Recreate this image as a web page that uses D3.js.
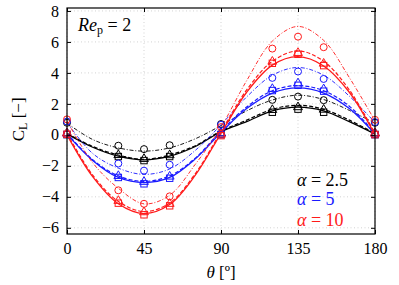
<!DOCTYPE html>
<html>
<head>
<meta charset="utf-8">
<script src="https://cdn.jsdelivr.net/npm/d3@7"></script>
<style>
  body { margin: 0; background: #fff; }
</style>
</head>
<body>
<div id="chart"></div>
<script>
// ── Data ─────────────────────────────────────────────────────────────────────
const alphas = ['2.5', '5', '10'];
const colors = ['#000000', '#1a1aff', '#ff1a1a'];

const xTicks = [0, 45, 90, 135, 180];
const yTicks = [-6, -4, -2, 0, 2, 4, 6, 8];

// marker angles
const thetaPts = [0, 30, 45, 60, 90, 120, 135, 150, 180];
const circles = [
  [0.78, -0.70, -0.92, -0.67, 0.70, 2.26, 2.47, 2.24, 0.78],
  [0.86, -1.85, -2.31, -1.93, 0.65, 3.68, 4.09, 3.61, 0.82],
  [1.00, -3.58, -4.45, -3.97, 0.50, 5.57, 6.34, 5.66, 0.97]
];
const triangles = [
  [0.10, -1.30, -1.55, -1.31, 0.10, 1.61, 1.79, 1.63, 0.10],
  [0.10, -2.65, -3.03, -2.69, 0.10, 2.97, 3.33, 2.95, 0.10],
  [0.10, -4.26, -4.99, -4.45, 0.02, 4.73, 5.29, 4.60, 0.10]
];
const squares = [
  [0.02, -1.40, -1.66, -1.40, 0.02, 1.46, 1.66, 1.46, 0.02],
  [0.02, -2.75, -3.16, -2.80, 0.02, 2.86, 3.20, 2.82, 0.02],
  [0.04, -4.41, -5.16, -4.58, -0.05, 4.62, 5.20, 4.47, 0.02]
];

// curve angles
const thetaLine = [0, 15, 30, 45, 60, 75, 90, 105, 120, 135, 150, 165, 180];
const dashDot = [
  [0.75, -0.30, -0.84, -1.05, -0.84, -0.25, 0.60, 1.55, 2.25, 2.56, 2.28, 1.58, 0.75],
  [0.80, -1.20, -2.15, -2.55, -2.20, -1.00, 0.65, 2.45, 3.85, 4.35, 3.85, 2.50, 0.80],
  [0.90, -1.80, -3.45, -4.45, -3.90, -1.90, 0.50, 3.50, 6.05, 7.00, 6.10, 3.70, 0.90]
];
const dashed = [
  [0.10, -0.75, -1.30, -1.58, -1.30, -0.70, 0.25, 0.95, 1.65, 1.91, 1.65, 0.95, 0.10],
  [0.10, -1.60, -2.65, -3.00, -2.65, -1.50, 0.25, 1.80, 2.85, 3.18, 2.85, 1.85, 0.10],
  [0.10, -2.60, -4.30, -4.95, -4.40, -2.50, 0.20, 2.90, 4.75, 5.42, 4.75, 2.90, 0.10]
];
const solid = [
  [0.05, -0.80, -1.38, -1.62, -1.38, -0.75, 0.20, 0.85, 1.55, 1.79, 1.55, 0.85, 0.05],
  [0.05, -1.65, -2.75, -3.08, -2.75, -1.55, 0.15, 1.70, 2.70, 3.03, 2.70, 1.70, 0.05],
  [0.00, -2.70, -4.45, -5.08, -4.50, -2.60, 0.10, 2.75, 4.50, 5.05, 4.45, 2.75, 0.00]
];

// ── Dimensions ───────────────────────────────────────────────────────────────
const W = 399, H = 285;
const margin = { top: 8, right: 24, bottom: 51, left: 67 };
const innerW = W - margin.left - margin.right;
const innerH = H - margin.top - margin.bottom;
const FONT = 'Liberation Serif';

const x = d3.scaleLinear().domain([0, 180]).range([0, innerW]);
const y = d3.scaleLinear().domain([-6.4, 8.19]).range([innerH, 0]);

const svg = d3.select('#chart').append('svg')
  .attr('width', W).attr('height', H);

const defs = svg.append('defs');
defs.append('clipPath').attr('id', 'clip')
  .append('rect').attr('width', innerW).attr('height', innerH);

const g = svg.append('g')
  .attr('transform', `translate(${margin.left},${margin.top})`);

// ── Grid ─────────────────────────────────────────────────────────────────────
g.append('g')
  .selectAll('line').data(xTicks).join('line')
  .attr('x1', d => x(d)).attr('x2', d => x(d))
  .attr('y1', 0).attr('y2', innerH)
  .attr('stroke', '#c8c8c8').attr('stroke-width', 0.8).attr('stroke-dasharray', '1,2.5');

g.append('g')
  .selectAll('line').data(yTicks).join('line')
  .attr('x1', 0).attr('x2', innerW)
  .attr('y1', d => y(d)).attr('y2', d => y(d))
  .attr('stroke', '#c8c8c8').attr('stroke-width', 0.8).attr('stroke-dasharray', '1,2.5');

// ── Curves ───────────────────────────────────────────────────────────────────
const line = d3.line()
  .x((d, i) => x(thetaLine[i]))
  .y(d => y(d))
  .curve(d3.curveCatmullRom.alpha(0.5));

const plot = g.append('g').attr('clip-path', 'url(#clip)');

alphas.forEach((a, k) => {
  plot.append('path').datum(dashDot[k])
    .attr('fill', 'none').attr('stroke', colors[k]).attr('stroke-width', 0.9)
    .attr('stroke-dasharray', '4,1.8,1,1.8').attr('d', line);
  plot.append('path').datum(dashed[k])
    .attr('fill', 'none').attr('stroke', colors[k]).attr('stroke-width', 1.2)
    .attr('stroke-dasharray', '4,2').attr('d', line);
  plot.append('path').datum(solid[k])
    .attr('fill', 'none').attr('stroke', colors[k]).attr('stroke-width', 1.3)
    .attr('d', line);
});

// ── Markers ──────────────────────────────────────────────────────────────────
alphas.forEach((a, k) => {
  const mk = g.append('g').attr('fill', 'none').attr('stroke', colors[k]).attr('stroke-width', 1);
  mk.selectAll('.c').data(circles[k]).join('circle')
    .attr('cx', (d, i) => x(thetaPts[i])).attr('cy', d => y(d)).attr('r', 3.5);
  mk.selectAll('.s').data(squares[k]).join('rect')
    .attr('x', (d, i) => x(thetaPts[i]) - 3.2).attr('y', d => y(d) - 3.2)
    .attr('width', 6.4).attr('height', 6.4);
  mk.selectAll('.t').data(triangles[k]).join('path')
    .attr('transform', (d, i) => `translate(${x(thetaPts[i])},${y(d)})`)
    .attr('d', d3.symbol(d3.symbolTriangle, 34)());
});

// ── Axes (mirrored inward ticks) ─────────────────────────────────────────────
const tick = 4;
const axisStyle = ax => {
  ax.select('.domain').remove();
  ax.selectAll('line').attr('stroke', '#000').attr('stroke-width', 1);
  ax.selectAll('text').attr('fill', '#000')
    .attr('font-family', FONT).attr('font-size', 16);
};
g.append('g').attr('transform', `translate(0,${innerH})`)
  .call(d3.axisBottom(x).tickValues(xTicks).tickSizeInner(-tick).tickPadding(9))
  .call(axisStyle);
g.append('g')
  .call(d3.axisTop(x).tickValues(xTicks).tickSizeInner(-tick).tickFormat(''))
  .call(axisStyle);
g.append('g')
  .call(d3.axisLeft(y).tickValues(yTicks).tickSizeInner(-tick).tickPadding(8)
    .tickFormat(d => d < 0 ? '\u2212' + Math.abs(d) : d))
  .call(axisStyle);
g.append('g').attr('transform', `translate(${innerW},0)`)
  .call(d3.axisRight(y).tickValues(yTicks).tickSizeInner(-tick).tickFormat(''))
  .call(axisStyle);

g.append('rect')
  .attr('width', innerW).attr('height', innerH)
  .attr('fill', 'none').attr('stroke', '#000').attr('stroke-width', 1.2);

// ── Labels ───────────────────────────────────────────────────────────────────
const label = (px, py, size) => svg.append('text')
  .attr('x', px).attr('y', py)
  .attr('font-family', FONT).attr('font-size', size);

const xl = label(margin.left + innerW / 2, 278, 17).attr('text-anchor', 'middle');
xl.append('tspan').attr('font-style', 'italic').text('θ');
xl.append('tspan').text(' [º]');

const yl = label(0, 0, 17).attr('text-anchor', 'middle')
  .attr('transform', `translate(24,${margin.top + y(1.0)}) rotate(-90)`);
yl.append('tspan').text('C');
yl.append('tspan').attr('dy', 3).attr('font-size', 12).text('L');
yl.append('tspan').attr('dy', -3).text(' [\u2212]');

const re = label(78, 31, 18);
re.append('tspan').attr('font-style', 'italic').text('Re');
re.append('tspan').attr('dy', 3).attr('font-size', 12).text('p');
re.append('tspan').attr('dy', -3).text(' = 2');

const legY = [186, 205, 226];
alphas.forEach((a, k) => {
  const t = label(297, legY[k], 18).attr('fill', colors[k]);
  t.append('tspan').attr('font-style', 'italic').text('α');
  t.append('tspan').text(' = ' + a);
});
</script>
</body>
</html>
